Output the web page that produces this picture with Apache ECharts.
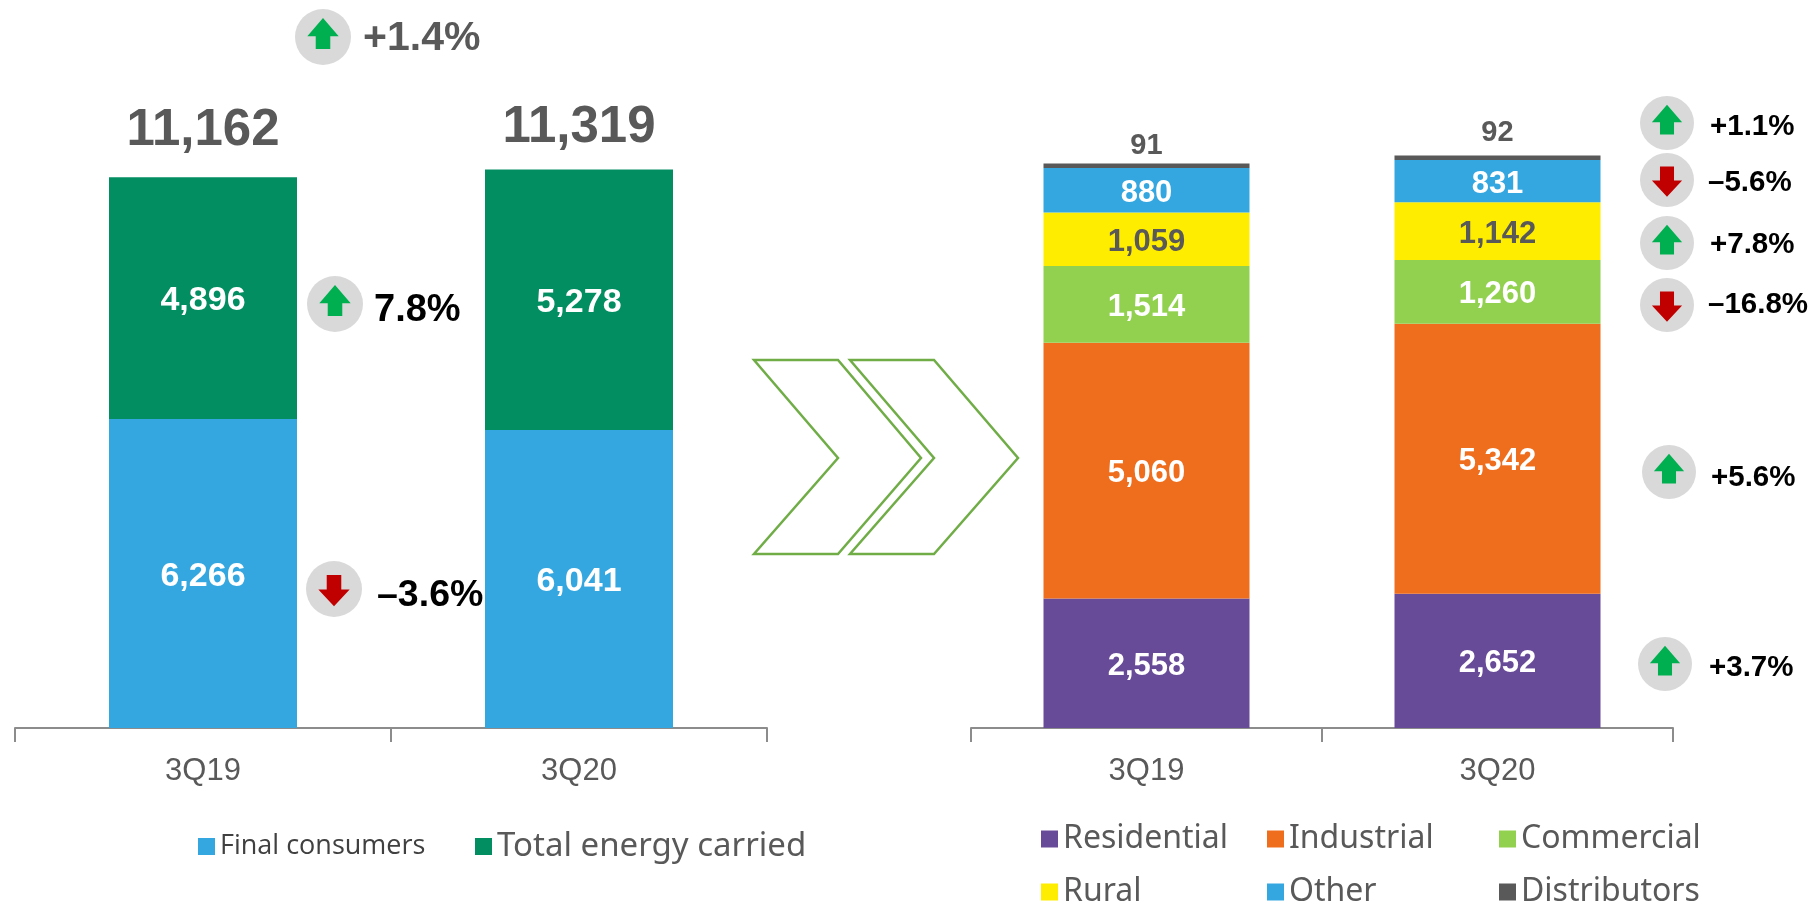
<!DOCTYPE html>
<html>
<head>
<meta charset="utf-8">
<style>html,body{margin:0;padding:0;background:#fff}#c{width:1817px;height:906px}</style>
<script src="https://cdn.jsdelivr.net/npm/echarts@6/dist/echarts.min.js"></script>
</head>
<body>
<div id="c"></div>
<script>
const quarters = ['3Q19', '3Q20'];
const finalConsumers = [6266, 6041];
const totalEnergyCarried = [4896, 5278];
const totals = [11162, 11319];
const residential = [2558, 2652];
const industrial = [5060, 5342];
const commercial = [1514, 1260];
const rural = [1059, 1142];
const other = [880, 831];
const distributors = [91, 92];
const leftChanges = ['+1.4%', '7.8%', '\u20133.6%'];
const rightChanges = ['+1.1%', '\u20135.6%', '+7.8%', '\u201316.8%', '+5.6%', '+3.7%'];

const FONT = '"Liberation Sans", Arial, sans-serif';
const GRAY = '#595959';
const fmt = p => Number(p.value).toLocaleString('en-US');

function stackSeries(name, data, color, axis, size, labelColor, barWidth) {
  return {
    name, type: 'bar', stack: 'a' + axis, xAxisIndex: axis, yAxisIndex: axis, data, barWidth,
    itemStyle: { color },
    label: { show: true, position: 'inside', offset: [0, 3], formatter: fmt, color: labelColor, fontFamily: FONT, fontWeight: 'bold', fontSize: size }
  };
}

const distributorLabelGap = [3, 8];
const totalLabelGap = [20, 16];

const series = [
  stackSeries('Final consumers', finalConsumers, '#35A7E0', 0, 34, '#fff', 188),
  stackSeries('Total energy carried', totalEnergyCarried, '#038E62', 0, 34, '#fff', 188),
  {
    name: 'Total', type: 'scatter', xAxisIndex: 0, yAxisIndex: 0,
    data: totals.map((v, i) => ({ value: v, label: { distance: totalLabelGap[i] } })),
    symbolSize: 1, itemStyle: { color: 'transparent', opacity: 1 }, silent: true,
    label: { show: true, position: 'top', formatter: fmt, color: GRAY, fontFamily: FONT, fontWeight: 'bold', fontSize: 51 }
  },
  stackSeries('Residential', residential, '#674A98', 1, 31, '#fff', 206),
  stackSeries('Industrial', industrial, '#EF6E1E', 1, 31, '#fff', 206),
  stackSeries('Commercial', commercial, '#92D14F', 1, 31, '#fff', 206),
  stackSeries('Rural', rural, '#FFED00', 1, 31, GRAY, 206),
  stackSeries('Other', other, '#35A7E0', 1, 31, '#fff', 206),
  Object.assign(stackSeries('Distributors', distributors.map((v, i) => ({ value: v, label: { distance: distributorLabelGap[i] } })), GRAY, 1, 29, GRAY, 206), {
    label: { show: true, position: 'top', formatter: fmt, color: GRAY, fontFamily: FONT, fontWeight: 'bold', fontSize: 29 }
  })
];

function xAxis(i) {
  return {
    type: 'category', gridIndex: i, data: quarters,
    axisLine: { lineStyle: { color: '#8C8C8C', width: 2 } },
    axisTick: { show: true, length: 14, lineStyle: { color: '#8C8C8C', width: 2 } },
    axisLabel: { color: GRAY, fontFamily: FONT, fontSize: 31, margin: 28 }
  };
}
function yAxis(i) {
  return { type: 'value', gridIndex: i, min: 0, max: 12000, show: false, splitLine: { show: false } };
}
function legend(item, left, top, size) {
  return {
    orient: 'horizontal', left, top, data: [item], selectedMode: false, icon: 'rect', padding: 0,
    itemWidth: 17, itemHeight: 17,
    textStyle: { color: GRAY, fontFamily: '"Noto Sans", sans-serif', fontSize: size || 32, padding: [0, 0, 0, 0] }
  };
}

/* Change badges: grey disc, arrow and percentage text */
const badgeLayout = [
  [leftChanges[0], 323, 37, 28, 363, 39, 41, GRAY, 1],
  [leftChanges[1], 335, 304, 28, 374, 311, 38, '#000', 1],
  [leftChanges[2], 334, 589, 28, 377, 596, 37.5, '#000', -1],
  [rightChanges[0], 1667, 123, 27, 1710, 127, 29.5, '#000', 1],
  [rightChanges[1], 1667, 180, 27, 1708, 183, 29.5, '#000', -1],
  [rightChanges[2], 1667, 243, 27, 1710, 245, 29.5, '#000', 1],
  [rightChanges[3], 1667, 305, 27, 1708, 305, 29.5, '#000', -1],
  [rightChanges[4], 1669, 472, 27, 1711, 478, 29.5, '#000', 1],
  [rightChanges[5], 1665, 664, 27, 1709, 668, 29.5, '#000', 1]
];
const graphics = [];
badgeLayout.forEach(([txt, cx, cy, r, tx, ty, fs, col, dir]) => {
  graphics.push({ type: 'circle', shape: { cx, cy, r }, style: { fill: '#D9D9D9' }, silent: true });
  const up = [[0, -0.68], [0.56, -0.03], [0.26, -0.03], [0.26, 0.43], [-0.26, 0.43], [-0.26, -0.03], [-0.56, -0.03]];
  const down = [[0, 0.62], [0.56, 0.02], [0.26, 0.02], [0.26, -0.5], [-0.26, -0.5], [-0.26, 0.02], [-0.56, 0.02]];
  const pts = (dir > 0 ? up : down).map(p => [cx + p[0] * r, cy + p[1] * r]);
  graphics.push({ type: 'polygon', shape: { points: pts }, style: { fill: dir > 0 ? '#00B050' : '#C00000' }, silent: true });
  graphics.push({
    type: 'text', x: tx, y: ty, silent: true,
    style: { text: txt, fill: col, font: 'bold ' + fs + 'px ' + FONT, textAlign: 'left', textVerticalAlign: 'middle' }
  });
});
/* Chevrons between the two charts */
[[754, 838, 921], [850, 934, 1018]].forEach(([a, b, c]) => {
  graphics.push({
    type: 'polygon', silent: true,
    shape: { points: [[a, 360], [b, 360], [c, 458], [b, 554], [a, 554], [b, 458]] },
    style: { fill: 'none', stroke: '#70AD47', lineWidth: 2.5 }
  });
});

const chart = echarts.init(document.getElementById('c'), null, { renderer: 'canvas' });
chart.setOption({
  animation: false,
  backgroundColor: '#fff',
  grid: [
    { left: 15, width: 752, top: 728 - 592, height: 592 },
    { left: 971, width: 702, top: 728 - 607, height: 607 }
  ],
  xAxis: [xAxis(0), xAxis(1)],
  yAxis: [yAxis(0), yAxis(1)],
  legend: [
    { ...legend('Final consumers', 198, 833), textStyle: { color: '#404040', fontFamily: '"Open Sans", sans-serif', fontSize: 27 } },
    legend('Total energy carried', 475, 830, 33),
    legend('Residential', 1041, 823),
    legend('Rural', 1041, 876),
    legend('Industrial', 1267, 823),
    legend('Other', 1267, 876),
    legend('Commercial', 1499, 823),
    legend('Distributors', 1499, 876)
  ],
  series,
  graphic: { elements: graphics }
});
</script>
</body>
</html>
